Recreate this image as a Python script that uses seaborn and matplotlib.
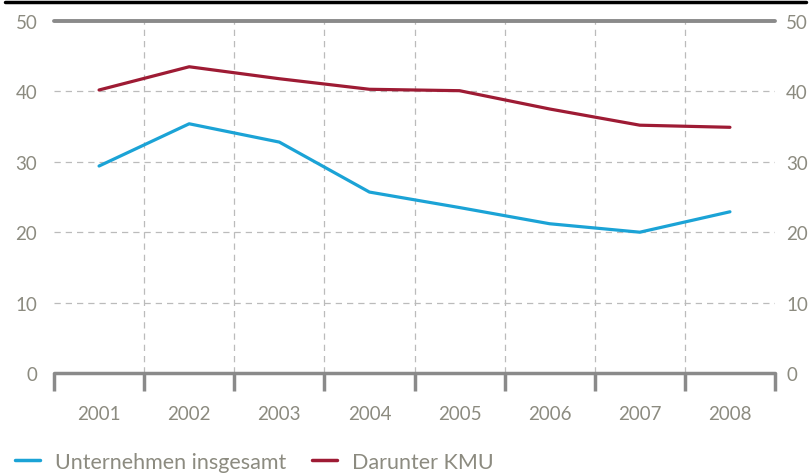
import pandas as pd
import seaborn as sns
import matplotlib.pyplot as plt
from matplotlib.lines import Line2D

# Daten
years = ["2001", "2002", "2003", "2004", "2005", "2006", "2007", "2008"]
gesamt = [29.4, 35.4, 32.8, 25.7, 23.5, 21.2, 20.0, 22.9]
kmu = [40.2, 43.5, 41.8, 40.3, 40.1, 37.5, 35.2, 34.9]

df = pd.DataFrame({
    "Jahr": years * 2,
    "Wert": gesamt + kmu,
    "Reihe": ["Unternehmen insgesamt"] * 8 + ["Darunter KMU"] * 8,
})

sns.set_style("white")
plt.rcParams["font.family"] = ["Lato", "DejaVu Sans"]

grey_txt = "#8c8b80"
grey_line = "#8a8a8a"
blue = "#1ba3d6"
red = "#9e1b34"

fig = plt.figure(figsize=(8.11, 4.77), dpi=100)
ax = fig.add_axes([54 / 811, 103 / 477, 721 / 811, 352 / 477])

sns.lineplot(data=df, x="Jahr", y="Wert", hue="Reihe",
             palette={"Unternehmen insgesamt": blue, "Darunter KMU": red},
             linewidth=2.3, legend=False, ax=ax, zorder=3)

ax.set_xlim(-0.5, 7.5)
ax.set_ylim(0, 50)
for s in ax.spines.values():
    s.set_visible(False)

# Gitter
for x in range(1, 8):
    ax.axvline(x - 0.5, color="#bbbbbb", lw=0.9, ls=(0, (5, 4)), zorder=1)
for y in [10, 20, 30, 40]:
    ax.axhline(y, color="#bbbbbb", lw=0.9, ls=(0, (5, 4)), zorder=1)
ax.axhline(50, color=grey_line, lw=2.8, zorder=2, clip_on=False)
ax.axhline(0, color=grey_line, lw=2.5, zorder=2, clip_on=False)

# Achsen-Ticks unten (Kategoriengrenzen)
for x in range(0, 9):
    ax.plot([x - 0.5, x - 0.5], [0, -2.6], color=grey_line, lw=2.5,
            clip_on=False, solid_capstyle="butt", zorder=2)

ax.set_xticks(range(8))
ax.set_xticklabels(years)
ax.tick_params(axis="x", length=0, pad=23, labelsize=13.5, colors=grey_txt)
ax.set_yticks([0, 10, 20, 30, 40, 50])
ax.tick_params(axis="y", length=0, pad=12, labelsize=13.5, colors=grey_txt)
ax.set_xlabel("")
ax.set_ylabel("")

# rechte Beschriftung
ax2 = ax.twinx()
ax2.set_ylim(0, 50)
ax2.set_yticks([0, 10, 20, 30, 40, 50])
ax2.tick_params(axis="y", length=0, pad=8, labelsize=13.5, colors=grey_txt)
for s in ax2.spines.values():
    s.set_visible(False)

# Linie oben
fig.add_artist(Line2D([5 / 811, 806 / 811], [474 / 477, 474 / 477],
                      color="black", lw=2.5))

# Legende
handles = [Line2D([], [], color=blue, lw=2.5), Line2D([], [], color=red, lw=2.5)]
fig.legend(handles, ["Unternehmen insgesamt", "Darunter KMU"],
           loc="center left", bbox_to_anchor=(15 / 811, 14 / 477), ncol=2,
           frameon=False, borderpad=0, borderaxespad=0,
           fontsize=15.5, labelcolor=grey_txt, handlelength=1.15,
           columnspacing=1.2, handletextpad=0.7)

fig.savefig("out.png", dpi=100)
